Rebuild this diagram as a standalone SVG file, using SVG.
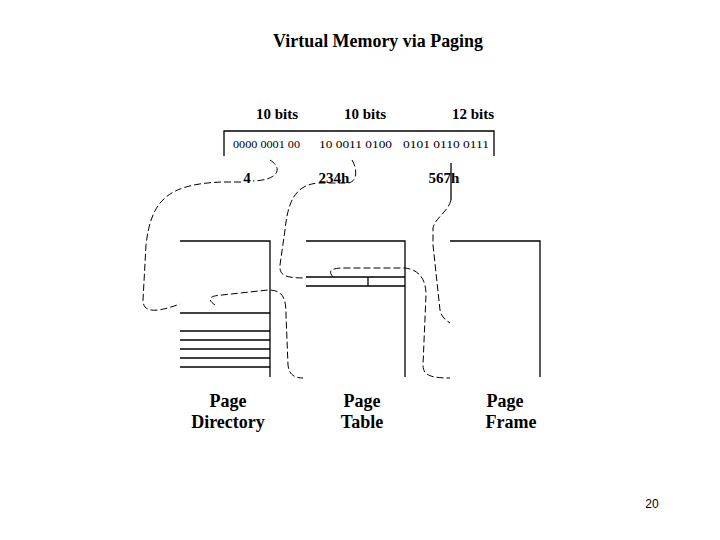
<svg xmlns="http://www.w3.org/2000/svg" width="720" height="540" viewBox="0 0 720 540">
<style>
.t{font-family:"Liberation Serif","Times New Roman",serif;font-weight:bold;fill:#000}
.b{font-family:"Liberation Serif","Times New Roman",serif;font-size:11px;fill:#000}
.s{fill:none;stroke:#000;stroke-width:1.3}
.d{fill:none;stroke:#000;stroke-width:1;stroke-dasharray:7,3}
</style>
<rect width="720" height="540" fill="#fff"/>
<g id="title"><text class="t" x="378" y="47" font-size="18" text-anchor="middle" textLength="210" lengthAdjust="spacingAndGlyphs">Virtual Memory via Paging</text></g>
<g id="virtual-address">
<text class="t" x="277" y="119" font-size="15" text-anchor="middle">10 bits</text>
<text class="t" x="365" y="119" font-size="15" text-anchor="middle">10 bits</text>
<text class="t" x="473" y="119" font-size="15" text-anchor="middle">12 bits</text>
<path class="s" d="M224,156 V131 H494 V156"/>
<text class="b" x="233" y="148" textLength="67" lengthAdjust="spacingAndGlyphs">0000 0001 00</text>
<text class="b" x="319" y="148" textLength="73" lengthAdjust="spacingAndGlyphs">10 0011 0100</text>
<text class="b" x="403" y="148" textLength="86" lengthAdjust="spacingAndGlyphs">0101 0110 0111</text>
</g>
<g id="connectors">
<path class="d" d="M270,160 C283,168 279,180 253,181"/>
<path class="d" d="M241,182 L222,182 C168,184 151,200 146,245 L143,300 C143,314 158,312 180,304"/>
<path class="d" d="M352,160 C358,170 357,182 348,183 L318,183 C296,185 288,200 285,230 L280,265 C279,276 286,278 306,278"/>
<path class="d" d="M215,305 C208,300 207,296 222,295 L268,290 C283,290 286,298 286,315 L288,365 C289,375 295,378 303,378"/>
<path class="d" d="M333,277 C328,271 330,268 345,268 L405,268 C420,270 426,280 426,295 L423,365 C423,375 430,378 450,378"/>
<path class="s" d="M451,163 V200" stroke-width="1"/>
<path class="d" d="M451,200 C448,212 435,218 433,228 L433,245 L440,310 C441,316 445,320 450,323"/>
</g>
<g id="offsets">
<text class="t" x="247" y="183" font-size="15" text-anchor="middle">4</text>
<text class="t" x="334" y="183" font-size="15" text-anchor="middle">234h</text>
<text class="t" x="444" y="183" font-size="15" text-anchor="middle">567h</text>
</g>
<g id="page-directory">
<path class="s" d="M180,241 H270 V377"/>
<path class="s" d="M180,313 H270 M180,331 H270 M180,340 H270 M180,349 H270 M180,358 H270 M180,367 H270"/>
<text class="t" x="228" y="407" font-size="18" text-anchor="middle">Page</text>
<text class="t" x="228" y="428" font-size="18" text-anchor="middle">Directory</text>
</g>
<g id="page-table">
<path class="s" d="M306,241 H405 V377"/>
<path class="s" d="M306,277 H405 M306,286 H405 M368,277 V286"/>
<text class="t" x="362" y="407" font-size="18" text-anchor="middle">Page</text>
<text class="t" x="362" y="428" font-size="18" text-anchor="middle">Table</text>
</g>
<g id="page-frame">
<path class="s" d="M450,241 H540 V377"/>
<text class="t" x="505" y="407" font-size="18" text-anchor="middle">Page</text>
<text class="t" x="511" y="428" font-size="18" text-anchor="middle">Frame</text>
</g>
<g id="page-number"><text x="652" y="508" font-family="'Liberation Sans',Arial,sans-serif" font-size="12" text-anchor="middle">20</text></g>
</svg>
